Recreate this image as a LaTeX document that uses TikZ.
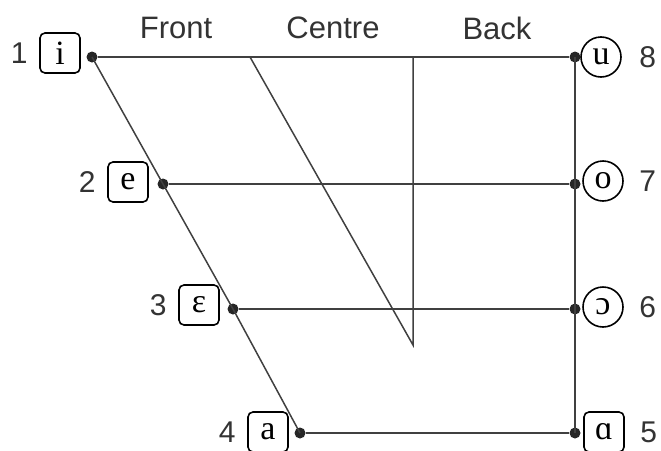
\documentclass[tikz,border=0pt]{standalone}
\usepackage{fontspec}
\setmainfont{Liberation Sans}
\newfontfamily\ipafont{Liberation Serif}
\usetikzlibrary{positioning}

\begin{document}
\begin{tikzpicture}[x=1pt, y=-1pt,
    dot/.style={circle, fill=black!85, inner sep=0pt, minimum size=11pt},
    vbox/.style={draw, rounded corners=5pt, line width=1.6pt, minimum size=40pt, inner sep=0pt, font=\ipafont\fontsize{34}{34}\selectfont},
    vcirc/.style={draw, circle, line width=1.6pt, minimum size=40pt, inner sep=0pt, font=\ipafont\fontsize{34}{34}\selectfont},
    num/.style={font=\fontsize{30}{30}\selectfont, text=black!80},
    head/.style={font=\fontsize{31}{31}\selectfont, text=black!80},
    line/.style={line width=1.5pt, draw=black!75}]
    \useasboundingbox (0,0) rectangle (661,450);

    % Nodes
    \node[dot] (d1) at (92,57) {};
    \node[dot] (d2) at (163,184) {};
    \node[dot] (d3) at (233,309) {};
    \node[dot] (d4) at (300,433) {};
    \node[dot] (d8) at (575,57) {};
    \node[dot] (d7) at (575,184) {};
    \node[dot] (d6) at (575,309) {};
    \node[dot] (d5) at (575,433) {};
    \coordinate (ctop) at (250,57);
    \coordinate (btop) at (413,57);
    \coordinate (cbot) at (413,345);

    % Vowel boxes
    \node[vbox] (v1) at (60,53) {i};
    \node[vbox] (v2) at (128,182) {e};
    \node[vbox] (v3) at (199,305) {ɛ};
    \node[vbox] (v4) at (268,432) {a};
    \node[vcirc] (v8) at (601,57) {u};
    \node[vcirc] (v7) at (603,181) {o};
    \node[vcirc] (v6) at (603,307) {ɔ};
    \node[vbox] (v5) at (604,432) {ɑ};

    % Numbers
    \node[num, left=8pt of v1] {1};
    \node[num, left=8pt of v2] {2};
    \node[num, left=8pt of v3] {3};
    \node[num, left=8pt of v4] {4};
    \node[num, right=14pt of v8] {8};
    \node[num, right=12pt of v7] {7};
    \node[num, right=12pt of v6] {6};
    \node[num, right=12pt of v5] {5};

    % Headings
    \node[head] (front) at (176,28) {Front};
    \node[head] (centre) at (333,28) {Centre};
    \node[head] (back) at (497,28) {Back};

    % Edges
    \draw[line] (d1) -- (d8);
    \draw[line] (d2) -- (d7);
    \draw[line] (d3) -- (d6);
    \draw[line] (d4) -- (d5);
    \draw[line] (d1.center) -- (d2.center) -- (d3.center) -- (d4.center);
    \draw[line] (d8.center) -- (d5.center);
    \draw[line] (ctop) -- (cbot) -- (btop);
  \end{tikzpicture}
\end{document}
